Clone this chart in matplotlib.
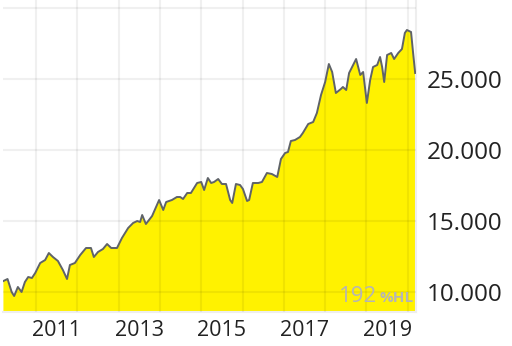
import matplotlib
matplotlib.use("Agg")
import matplotlib.pyplot as plt
import numpy as np

# decimal years and index values
years = [2010.21, 2010.31, 2010.41, 2010.47, 2010.56, 2010.65, 2010.73, 2010.81, 2010.90, 2010.98,
         2011.10, 2011.22, 2011.31, 2011.41, 2011.53, 2011.65, 2011.75, 2011.82, 2011.94, 2012.07,
         2012.21, 2012.33, 2012.40, 2012.50, 2012.62, 2012.72, 2012.82, 2012.96, 2013.08, 2013.23,
         2013.35, 2013.45, 2013.52, 2013.57, 2013.66, 2013.81, 2013.98, 2014.08, 2014.15, 2014.29,
         2014.41, 2014.49, 2014.56, 2014.66, 2014.75, 2014.90, 2015.00, 2015.07, 2015.16, 2015.24,
         2015.31, 2015.41, 2015.50, 2015.60, 2015.70, 2015.75, 2015.84, 2015.94, 2016.01, 2016.11,
         2016.16, 2016.25, 2016.38, 2016.47, 2016.59, 2016.71, 2016.84, 2016.93, 2017.03, 2017.10,
         2017.17, 2017.27, 2017.39, 2017.46, 2017.59, 2017.71, 2017.80, 2017.90, 2018.00, 2018.09,
         2018.17, 2018.26, 2018.38, 2018.43, 2018.51, 2018.58, 2018.75, 2018.85, 2018.92, 2019.01,
         2019.09, 2019.16, 2019.26, 2019.33, 2019.38, 2019.43, 2019.50, 2019.60, 2019.67, 2019.77,
         2019.86, 2019.93, 2019.98, 2020.08, 2020.13, 2020.18]
values = [10775, 10916, 10000, 9719, 10353, 10000, 10704, 11057, 10986, 11338,
          12042, 12254, 12747, 12465, 12184, 11550, 10916, 11902, 12042, 12606,
          13099, 13099, 12465, 12817, 13028, 13380, 13099, 13099, 13803, 14507,
          14860, 15000, 14930, 15423, 14789, 15352, 16479, 15775, 16338, 16479,
          16690, 16690, 16550, 16972, 16972, 17676, 17747, 17183, 18028, 17676,
          17747, 17958, 17606, 17606, 16479, 16268, 17606, 17535, 17254, 16409,
          16479, 17676, 17676, 17747, 18380, 18310, 18099, 19366, 19789, 19859,
          20634, 20704, 20916, 21197, 21831, 21972, 22606, 23873, 24789, 26056,
          25493, 24014, 24296, 24437, 24225, 25423, 26408, 25282, 25493, 23310,
          24930, 25845, 25986, 26549, 25845, 24789, 26690, 26831, 26408, 26831,
          27113, 28239, 28451, 28310, 26831, 25423]

year_grid = [2011, 2012, 2013, 2014, 2015, 2016, 2017, 2018, 2019, 2020]
year_labels = ["2011", "2013", "2015", "2017", "2019"]
y_ticks = [10000, 15000, 20000, 25000, 30000]
y_labels = ["10.000", "15.000", "20.000", "25.000", "30.000"]
badge_value = "192"
badge_unit = "%HL"

plt.rcParams['font.family'] = ['Open Sans', 'DejaVu Sans']

fig = plt.figure(figsize=(5.12, 3.46), dpi=100)
ax = fig.add_axes([3/512, (346-311.7)/346, 413/512, 311.7/346])

ax.fill_between(years, values, 0, color="#FFF200", zorder=1, linewidth=0)
ax.plot(years, values, color="#5f6368", linewidth=1.4, zorder=3)

ax.set_xlim(2010.20, 2020.20)
ax.set_ylim(8613, 30563)

ax.set_xticks(year_grid)
ax.set_xticklabels([])
ax.set_xticks([int(l) + 0.5 for l in year_labels], minor=True)
ax.set_xticklabels(year_labels, minor=True)
ax.tick_params(axis='x', which='both', length=0, pad=6, labelsize=15.5, labelcolor="#222222")

ax.set_yticks(y_ticks)
ax.set_yticklabels(y_labels)
ax.yaxis.tick_right()
ax.tick_params(axis='y', length=0, pad=8, labelsize=17.5, labelcolor="#222222")

ax.grid(True, which='major', color="black", alpha=0.06, linewidth=1.5, zorder=2)
ax.set_axisbelow(False)

for s in ['top', 'left']:
    ax.spines[s].set_visible(False)
for s in ['right', 'bottom']:
    ax.spines[s].set_color("#eeeeee")
    ax.spines[s].set_linewidth(1.5)

ax.text(0.905, 0.015, badge_value, transform=ax.transAxes, ha='right', va='bottom',
        fontsize=16, color="#b5b5b5", zorder=5)
ax.text(0.995, 0.02, badge_unit, transform=ax.transAxes, ha='right', va='bottom',
        fontsize=11, fontweight='bold', color="#b5b5b5", zorder=5)

# hide the 30.000 label (cut off in the original)
for lbl in ax.get_yticklabels():
    if lbl.get_text() == "30.000":
        lbl.set_visible(False)

fig.savefig("out.png", dpi=100)
